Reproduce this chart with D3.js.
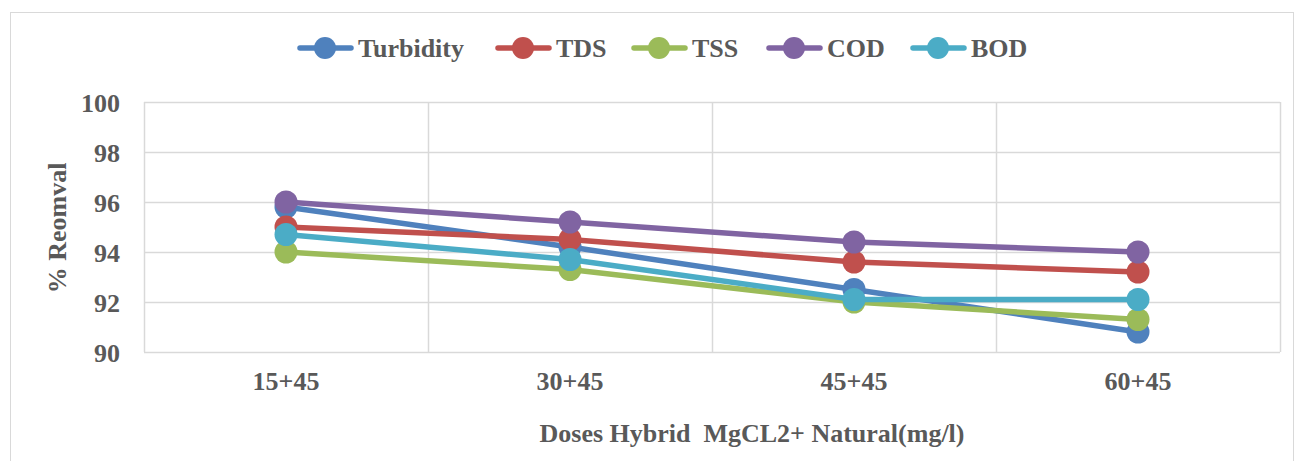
<!DOCTYPE html>
<html>
<head>
<meta charset="utf-8">
<script src="https://cdn.jsdelivr.net/npm/d3@7"></script>
<style>
body { margin: 0; background: #fff; }
</style>
</head>
<body>
<script>
//data
var doses = ['15+45', '30+45', '45+45', '60+45'];
var turbidity = [95.8, 94.2, 92.5, 90.8];
var tds = [95.0, 94.5, 93.6, 93.2];
var tss = [94.0, 93.3, 92.0, 91.3];
var cod = [96.0, 95.2, 94.4, 94.0];
var bod = [94.7, 93.7, 92.1, 92.1];
var y_ticks = [90, 92, 94, 96, 98, 100];

var series = [
    {'name': 'Turbidity', 'values': turbidity, 'color': '#4f81bd'},
    {'name': 'TDS',       'values': tds,       'color': '#c0504d'},
    {'name': 'TSS',       'values': tss,       'color': '#9bbb59'},
    {'name': 'COD',       'values': cod,       'color': '#8064a2'},
    {'name': 'BOD',       'values': bod,       'color': '#4bacc6'}
];

var font = '"Liberation Serif", "Times New Roman", Times, serif';

//layout
var svg_width = 1296;
var svg_height = 461;
var plot = {left: 144, right: 1280, top: 102, bottom: 352};

var svg = d3.select('body').append('svg')
    .attr('width', svg_width)
    .attr('height', svg_height);

function label(sel, size) {
    return sel.style('font-family', font).style('font-weight', 'bold')
        .style('font-size', size + 'px').style('fill', '#595959');
}

//outer frame
svg.append('rect')
    .attr('x', 10.5).attr('y', 12.5)
    .attr('width', 1283).attr('height', 460)
    .attr('fill', 'none').attr('stroke', '#d9d9d9');

//scales
var scale_x = d3.scaleBand().domain(doses).range([plot.left, plot.right]);
var scale_y = d3.scaleLinear().domain([90, 100]).range([plot.bottom, plot.top]);

//grid
var grid = svg.append('g');
grid.selectAll('.hgrid').data(y_ticks).enter().append('line')
    .attr('x1', plot.left).attr('x2', plot.right)
    .attr('y1', function(d) { return Math.round(scale_y(d)) + 0.5; })
    .attr('y2', function(d) { return Math.round(scale_y(d)) + 0.5; })
    .attr('stroke', '#d9d9d9').attr('stroke-width', 1.5);
var bounds = doses.map(function(d) { return scale_x(d); }).concat([plot.right]);
grid.selectAll('.vgrid').data(bounds).enter().append('line')
    .attr('x1', function(d) { return Math.round(d) + 0.5; })
    .attr('x2', function(d) { return Math.round(d) + 0.5; })
    .attr('y1', plot.top).attr('y2', plot.bottom)
    .attr('stroke', '#d9d9d9').attr('stroke-width', 1.5);

//axes
var axis_y = d3.axisLeft(scale_y).tickValues(y_ticks).tickSize(0).tickPadding(24);
svg.append('g').attr('transform', 'translate(' + plot.left + ',0)').call(axis_y)
    .attr('font-family', null).attr('font-size', null)
    .call(function(g) { g.select('.domain').remove(); })
    .selectAll('text').call(label, 26).attr('dy', '0.35em');

var axis_x = d3.axisBottom(scale_x).tickSize(0).tickPadding(20);
svg.append('g').attr('transform', 'translate(0,' + plot.bottom + ')').call(axis_x)
    .attr('font-family', null).attr('font-size', null)
    .call(function(g) { g.select('.domain').remove(); })
    .selectAll('text').call(label, 26).attr('dy', '0.71em');

//axis titles
svg.append('text')
    .attr('text-anchor', 'middle')
    .attr('x', 752).attr('y', 442)
    .style('white-space', 'pre')
    .call(label, 26)
    .text('Doses Hybrid  MgCL2+ Natural(mg/l)');
svg.append('text')
    .attr('text-anchor', 'middle')
    .attr('transform', 'translate(66,228) rotate(-90)')
    .call(label, 26)
    .text('% Reomval');

//lines and points
var line = d3.line()
    .x(function(d, i) { return scale_x(doses[i]) + scale_x.bandwidth() / 2; })
    .y(function(d) { return scale_y(d); });

series.forEach(function(s) {
    var g = svg.append('g');
    g.append('path')
        .attr('d', line(s.values))
        .attr('fill', 'none')
        .attr('stroke', s.color)
        .attr('stroke-width', 5.5)
        .attr('stroke-linecap', 'round');
    g.selectAll('circle').data(s.values).enter().append('circle')
        .attr('cx', function(d, i) { return scale_x(doses[i]) + scale_x.bandwidth() / 2; })
        .attr('cy', function(d) { return scale_y(d); })
        .attr('r', 11.5)
        .attr('fill', s.color);
});

//legend
var legend_x = [298, 496, 632, 767, 911];
var key = svg.append('g').attr('transform', 'translate(0,48)');
series.forEach(function(s, i) {
    var item = key.append('g').attr('transform', 'translate(' + legend_x[i] + ',0)');
    item.append('line')
        .attr('x1', 2).attr('x2', 53)
        .attr('stroke', s.color).attr('stroke-width', 5.5)
        .attr('stroke-linecap', 'round');
    item.append('circle').attr('cx', 27).attr('r', 11).attr('fill', s.color);
    item.append('text')
        .attr('x', 60).attr('dy', '0.35em')
        .call(label, 26)
        .text(s.name);
});
</script>
</body>
</html>
